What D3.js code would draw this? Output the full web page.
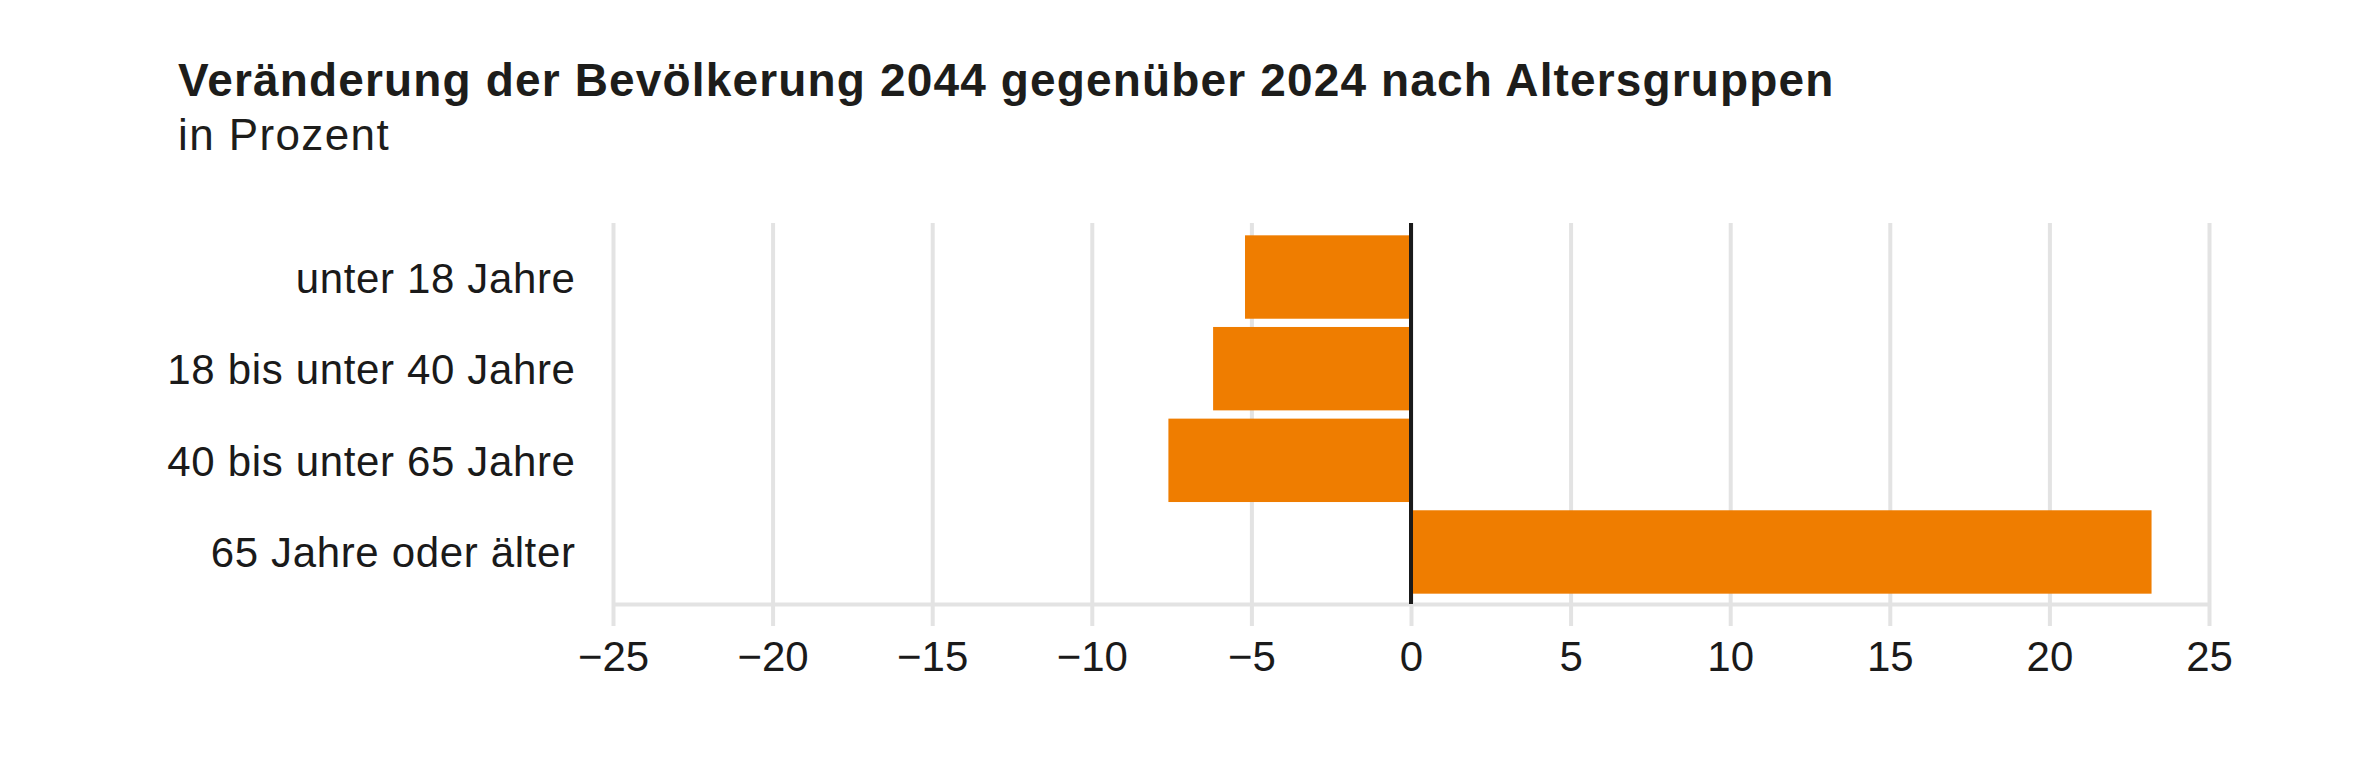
<!DOCTYPE html>
<html>
<head>
<meta charset="utf-8">
<script src="https://cdn.jsdelivr.net/npm/d3@7"></script>
<style>
  body { margin: 0; background: #fff; }
  text { font-family: "Liberation Sans", Arial, sans-serif; }
</style>
</head>
<body>
<div id="chart"></div>
<script>
// data
const categories = ["unter 18 Jahre", "18 bis unter 40 Jahre", "40 bis unter 65 Jahre", "65 Jahre oder älter"];
const values = [-5.2, -6.2, -7.6, 23.2];
const tickValues = [-25, -20, -15, -10, -5, 0, 5, 10, 15, 20, 25];
const title = "Veränderung der Bevölkerung 2044 gegenüber 2024 nach Altersgruppen";
const subtitle = "in Prozent";

const width = 2368, height = 764;
const plotTop = 223, axisY = 604;

const svg = d3.select("#chart")
    .append("svg")
    .attr("width", width)
    .attr("height", height);

const x = d3.scaleLinear()
    .domain([-25, 25])
    .range([613, 2209]);

const y = d3.scaleBand()
    .domain(categories)
    .range([231.2, 597.8])
    .paddingInner(0.09)
    .paddingOuter(0.045);

// title
svg.append("text")
    .attr("x", 178)
    .attr("y", 96)
    .attr("font-size", 46)
    .attr("font-weight", "bold")
    .attr("letter-spacing", 1.15)
    .attr("fill", "#1d1d1b")
    .text(title);

svg.append("text")
    .attr("x", 178)
    .attr("y", 149.5)
    .attr("font-size", 44)
    .attr("letter-spacing", 1.4)
    .attr("fill", "#1d1d1b")
    .text(subtitle);

// gridlines (they run a bit below the axis line as ticks)
const grid = svg.append("g")
    .attr("transform", `translate(0, 626)`)
    .call(d3.axisBottom(x).tickValues(tickValues).tickSize(-(626 - plotTop)).tickFormat(""));
grid.select(".domain").remove();
grid.selectAll("line")
    .attr("stroke", "#e3e3e3")
    .attr("stroke-width", 4);

// bars
svg.append("g")
    .selectAll("rect")
    .data(categories)
    .join("rect")
    .attr("x", (d, i) => x(Math.min(0, values[i])))
    .attr("y", d => y(d))
    .attr("width", (d, i) => Math.abs(x(values[i]) - x(0)))
    .attr("height", y.bandwidth())
    .attr("fill", "#ef7d00");

// axis line + tick labels
const axis = svg.append("g")
    .attr("transform", `translate(0, ${axisY})`)
    .call(d3.axisBottom(x).tickValues(tickValues).tickSize(0).tickPadding(37).tickSizeOuter(0));
axis.select(".domain")
    .attr("stroke", "#e3e3e3")
    .attr("stroke-width", 4);
axis.selectAll("text")
    .attr("font-size", 42)
    .attr("font-family", "Liberation Sans, Arial, sans-serif")
    .attr("fill", "#1a1a1a");

// zero line
svg.append("line")
    .attr("x1", x(0))
    .attr("x2", x(0))
    .attr("y1", plotTop)
    .attr("y2", axisY)
    .attr("stroke", "#1a1a1a")
    .attr("stroke-width", 4);

// category labels
svg.append("g")
    .attr("text-anchor", "end")
    .selectAll("text")
    .data(categories)
    .join("text")
    .attr("x", 575.6)
    .attr("y", d => y(d) + y.bandwidth() / 2 + 15.5)
    .attr("font-size", 42)
    .attr("letter-spacing", 0.65)
    .attr("fill", "#1a1a1a")
    .text(d => d);
</script>
</body>
</html>
